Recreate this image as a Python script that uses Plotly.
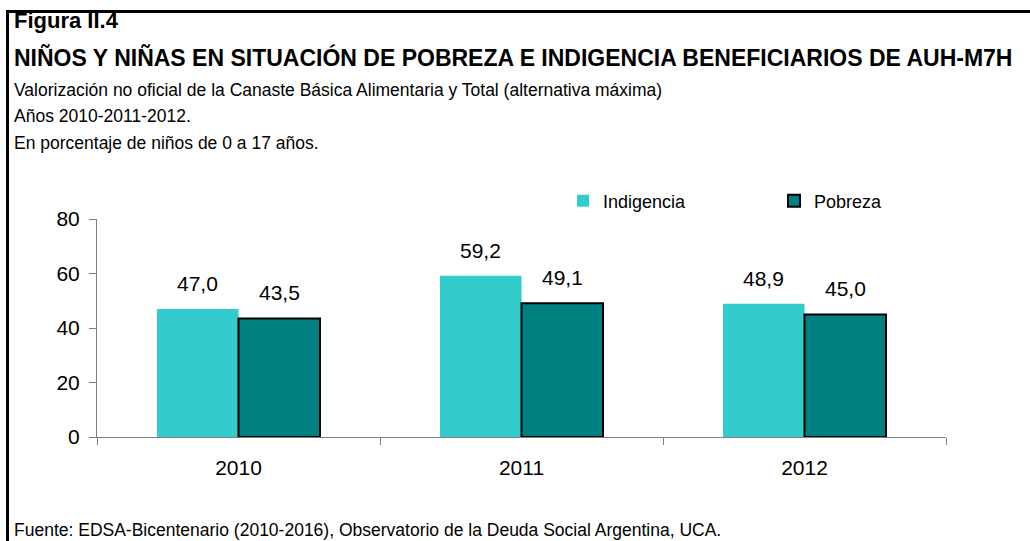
import plotly.graph_objects as go

years = ["2010", "2011", "2012"]
indigencia = [47.0, 59.2, 48.9]
pobreza = [43.5, 49.1, 45.0]
y_ticks = [0, 20, 40, 60, 80]

W_FIG, H_FIG = 1030, 541
L, R, T, B = 97, 84, 219, 104
PW, PH = W_FIG - L - R, H_FIG - T - B
FONT = "Liberation Sans, Arial, sans-serif"


def px(x):
    return (x - L) / PW


def py(y):
    return (H_FIG - B - y) / PH


fig = go.Figure()
fig.add_trace(go.Bar(name="Indigencia", x=years, y=indigencia,
                     marker=dict(color="#33CCCC", line=dict(width=0))))
fig.add_trace(go.Bar(name="Pobreza", x=years, y=pobreza,
                     marker=dict(color="#008080", line=dict(color="#000000", width=2))))

for vals, shift in ((indigencia, -41), (pobreza, 41)):
    for i, yv in enumerate(vals):
        fig.add_annotation(x=i, y=yv, xref="x", yref="y", xshift=shift, yshift=12,
                           text=f"{yv:.1f}".replace(".", ","), showarrow=False,
                           yanchor="bottom", font=dict(family=FONT, size=21, color="#000"))

texts = [
    ("Figura II.4", 21, 22, True),
    ("NIÑOS Y NIÑAS EN SITUACIÓN DE POBREZA E INDIGENCIA BENEFICIARIOS DE AUH-M7H", 57, 23, True),
    ("Valorización no oficial de la Canaste Básica Alimentaria y Total (alternativa máxima)", 90, 17.5, False),
    ("Años 2010-2011-2012.", 116, 17.5, False),
    ("En porcentaje de niños de 0 a 17 años.", 143, 17.5, False),
    ("Fuente: EDSA-Bicentenario (2010-2016), Observatorio de la Deuda Social Argentina, UCA.", 530, 17.5, False),
]
for txt, yc, size, bold in texts:
    fig.add_annotation(x=px(12), y=py(yc), xref="paper", yref="paper", xanchor="left",
                       yanchor="middle", showarrow=False,
                       text=f"<b>{txt}</b>" if bold else txt,
                       font=dict(family=FONT, size=size, color="#000"))

# frame lines
fig.add_shape(type="line", xref="paper", yref="paper", x0=px(6), x1=px(1031),
              y0=py(11.5), y1=py(11.5), line=dict(color="#000", width=3))
fig.add_shape(type="line", xref="paper", yref="paper", x0=px(7.5), x1=px(7.5),
              y0=py(10), y1=py(545), line=dict(color="#000", width=3))

fig.update_layout(
    width=W_FIG, height=H_FIG,
    margin=dict(l=L, r=R, t=T, b=B, autoexpand=False),
    paper_bgcolor="#ffffff", plot_bgcolor="#ffffff",
    barmode="group", bargap=0.424, bargroupgap=0,
    separators=",.",
    showlegend=True,
    legend=dict(orientation="h", x=px(563), y=py(201), xanchor="left", yanchor="middle",
                font=dict(family=FONT, size=18, color="#000"),
                entrywidth=166, entrywidthmode="pixels", itemwidth=30,
                bgcolor="rgba(0,0,0,0)", traceorder="normal"),
    font=dict(family=FONT, color="#000"),
)
fig.update_xaxes(type="category", range=[-0.5, 2.5], tickson="boundaries", ticks="outside",
                 ticklen=7, tickcolor="#808080", showline=True, linecolor="#808080",
                 linewidth=1, showgrid=False, automargin=False, tickangle=0,
                 ticklabelstandoff=12,
                 tickfont=dict(family=FONT, size=21, color="#000"), fixedrange=True)
fig.update_yaxes(range=[0, 80], tickvals=y_ticks, ticks="outside", ticklen=7,
                 tickcolor="#808080", showline=True, linecolor="#808080", linewidth=1,
                 showgrid=False, zeroline=False, automargin=False,
                 ticklabelstandoff=5,
                 tickfont=dict(family=FONT, size=21, color="#000"), fixedrange=True)

fig.write_html("out.html", config={"displayModeBar": False},
               post_script="document.body.style.margin='0';")
